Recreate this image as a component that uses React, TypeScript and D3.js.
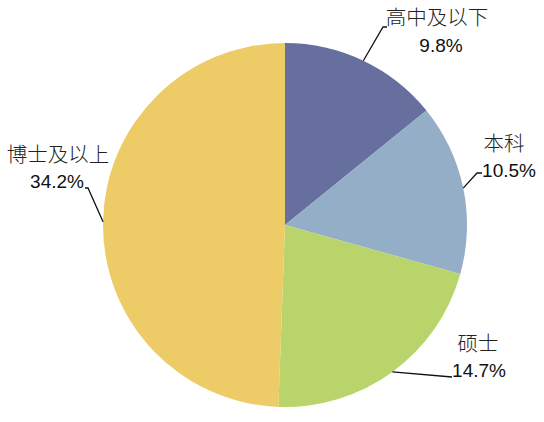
import React from "react";
import * as d3 from "d3";

const categories = ["高中及以下", "本科", "硕士", "博士及以上"];
const values = [9.8, 10.5, 14.7, 34.2];
const valueLabels = ["9.8%", "10.5%", "14.7%", "34.2%"];
const colors = ["#676f9f", "#95aec7", "#b9d46b", "#edcb67"];

// label layout: elbow point, end point, text positions
const labelLayout = [
  { elbow: [383, 27], end: [387, 27], tx1: 437, tx2: 441, ty1: 25, ty2: 52 },
  { elbow: [477, 173], end: [482, 173], tx1: 504, tx2: 509, ty1: 151, ty2: 177 },
  { elbow: [452, 377], end: [452, 377], tx1: 478, tx2: 479, ty1: 351, ty2: 377 },
  { elbow: [88, 188], end: [85, 188], tx1: 58, tx2: 57, ty1: 162, ty2: 188 },
];

const W = 544;
const H = 422;
const cx = 285;
const cy = 225;
const R = 182;

export default function App() {
  const pie = d3.pie<number>().sort(null).value((d) => d);
  const arcs = pie(values);
  const arc = d3.arc<d3.PieArcDatum<number>>().innerRadius(0).outerRadius(R);
  return (
    <svg
      width={W}
      height={H}
      style={{ position: "absolute", left: 0, top: 0, background: "#fff" }}
    >
      <g transform={`translate(${cx},${cy})`}>
        {arcs.map((a, i) => (
          <path key={i} d={arc(a) || ""} fill={colors[i]} stroke="none" />
        ))}
      </g>
      {arcs.map((a, i) => {
        const mid = (a.startAngle + a.endAngle) / 2;
        const sx = cx + R * Math.sin(mid);
        const sy = cy - R * Math.cos(mid);
        const L = labelLayout[i];
        return (
          <g key={i}>
            <polyline
              points={`${sx},${sy} ${L.elbow[0]},${L.elbow[1]} ${L.end[0]},${L.end[1]}`}
              fill="none"
              stroke="#111"
              strokeWidth={1.3}
            />
            <text
              x={L.tx1}
              y={L.ty1}
              textAnchor="middle"
              fontFamily="'Noto Sans CJK SC', sans-serif"
              fontWeight={300}
              fontSize={20.5}
              fill="#222"
            >
              {categories[i]}
            </text>
            <text
              x={L.tx2}
              y={L.ty2}
              textAnchor="middle"
              fontFamily="'Liberation Sans', Arial, sans-serif"
              fontSize={19}
              fill="#111"
            >
              {valueLabels[i]}
            </text>
          </g>
        );
      })}
    </svg>
  );
}
